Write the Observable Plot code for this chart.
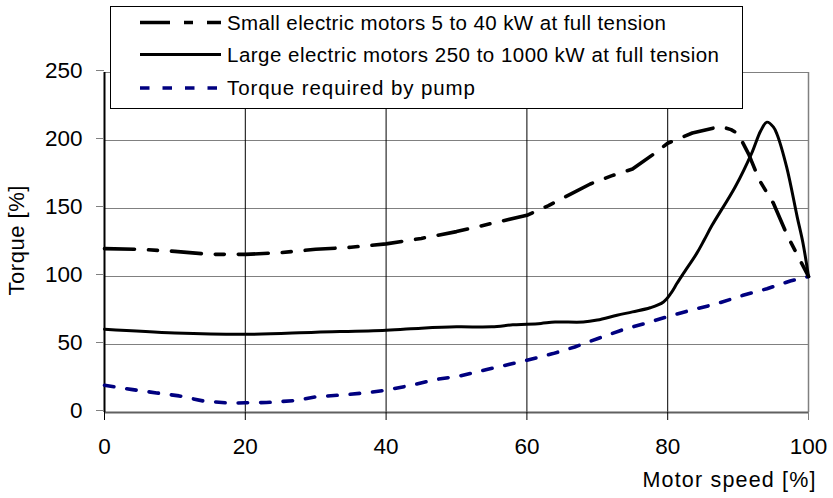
<!DOCTYPE html>
<html><head><meta charset="utf-8">
<script src="https://cdn.jsdelivr.net/npm/d3@7"></script>
<script src="https://cdn.jsdelivr.net/npm/@observablehq/plot@0.6"></script>
<style>
body{margin:0;background:#fff;font-family:"Liberation Sans",Arial,sans-serif;}
#wrap{position:relative;width:833px;height:498px;overflow:hidden;}
#legend{position:absolute;left:0;top:0;}
</style></head><body><div id="wrap"></div>
<script>
const seriesNames = [
  "Small electric motors 5 to 40 kW at full tension",
  "Large electric motors 250 to 1000 kW at full tension",
  "Torque required by pump"
];
const xTicks = [0, 20, 40, 60, 80, 100];
const yTicks = [0, 50, 100, 150, 200, 250];
const xTitle = "Motor speed [%]";
const yTitle = "Torque [%]";

const smallX = [0,5,10,15,20,25,30,35,40,45,50,55,60,63,66,69,72,75,78,80,83.5,87.5,89,90,91.5,93,95,97,99,100];
const smallY = [120.5,120,118.5,116.3,116.3,117.5,120,121.5,124,128,133,139,145,152,160,168,174,179,190,198,205.5,210.4,208,205,190,171,154,130,110,100];

const largeX = [0,10,20,30,40,45,50,55,58,60,62,64,68,70,72.8,75,77.5,79.4,80.5,81.3,82.2,84.1,85.2,86.3,89.6,92,93.2,94.1,95,95.5,96.9,98.4,99.2,100];
const largeY = [61.2,58.5,57.5,59,60.5,62,63,63,64.5,64.9,65.5,66.5,66.5,68,71.5,74,77,81.3,88,94.8,102,116.8,127,137.6,166,191.5,207,213.5,210,205,180.4,143.7,125,100];

const pumpX = [0,4,7.4,10.6,14,18,20,23,27,30,34,37,40,44,47,50.5,54.3,58,60,63.7,66.8,70.4,73.7,77,80,83.6,87,90.7,94.1,97.4,100];
const pumpY = [20,16.8,14.4,12.2,8.5,6.8,7.2,7.3,8.8,11.5,13,14.4,16.4,20.5,24.2,26.9,31.6,36,38.4,43.3,48.2,55,61,65.8,70.5,75.7,80,86.2,91,96.7,100];

const toRows = (xs, ys) => xs.map((x, i) => ({x, y: ys[i]}));
const small = toRows(smallX, smallY);
const large = toRows(largeX, largeY);
const pump = toRows(pumpX, pumpY);

const FONT = "'Liberation Sans', Arial, sans-serif";
const styles = [
  {stroke: "#000", strokeWidth: 3.6, dash: "30,14,9,14"},
  {stroke: "#000", strokeWidth: 3, dash: null},
  {stroke: "#000080", strokeWidth: 3.6, dash: "9.5,13"}
];
// rendered text widths as in the reference
const legendTextWidths = [439, 492, 248];
const xTitleWidth = 173;
const yTitleWidth = 110;

const plot = Plot.plot({
  width: 833,
  height: 498,
  marginLeft: 104,
  marginRight: 25,
  marginTop: 72,
  marginBottom: 86,
  style: {fontFamily: FONT, fontSize: "22px", background: "#fff", overflow: "visible"},
  x: {domain: [0, 100]},
  y: {domain: [0, 250]},
  marks: [
    Plot.ruleY(yTicks.filter(d => d > 0), {stroke: "#808080", strokeWidth: 1}),
    Plot.ruleX(xTicks.filter(d => d > 0 && d < 100), {stroke: "#000", strokeWidth: 1}),
    Plot.ruleX([100], {stroke: "#808080", strokeWidth: 1.5}),
    Plot.ruleY([0], {stroke: "#606060", strokeWidth: 2}),
    Plot.ruleX([0], {stroke: "#000", strokeWidth: 2}),
    Plot.axisY(yTicks, {tickSize: 8, tickPadding: 14, stroke: "#808080", fontSize: 22.5, label: null, dy: -2, fill: "#000"}),
    Plot.axisX(xTicks.filter(d => d < 100), {tickSize: 8, tickPadding: 18, stroke: "#000", fontSize: 22.5, label: null, fill: "#000"}),
    Plot.axisX([100], {tickSize: 8, tickPadding: 18, stroke: "#808080", fontSize: 22.5, label: null, fill: "#000"}),
    Plot.line(pump, {x: "x", y: "y", stroke: styles[2].stroke, strokeWidth: styles[2].strokeWidth, strokeDasharray: styles[2].dash}),
    Plot.line(large, {x: "x", y: "y", stroke: styles[1].stroke, strokeWidth: styles[1].strokeWidth, curve: "catmull-rom", strokeLinejoin: "round"}),
    Plot.line(small, {x: "x", y: "y", stroke: styles[0].stroke, strokeWidth: styles[0].strokeWidth, strokeDasharray: styles[0].dash}),
    Plot.text([yTitle], {frameAnchor: "left", textAnchor: "middle", rotate: -90, dx: -88, dy: -2, fontSize: 22, fill: "#000"}),
    Plot.text([xTitle], {frameAnchor: "bottom-right", textAnchor: "start", dx: -166, dy: 74, fontSize: 21.5, fill: "#000"})
  ]
});

d3.select(plot).selectAll("text")
  .filter(function() { return this.textContent === xTitle; })
  .attr("textLength", xTitleWidth).attr("lengthAdjust", "spacing");
d3.select(plot).selectAll("text")
  .filter(function() { return this.textContent === yTitle; })
  .attr("textLength", yTitleWidth).attr("lengthAdjust", "spacing");

const wrap = document.getElementById("wrap");
wrap.appendChild(plot);

// Legend overlay (drawn above the plot area, as in the reference)
const ns = "http://www.w3.org/2000/svg";
const lg = document.createElementNS(ns, "svg");
lg.setAttribute("id", "legend");
lg.setAttribute("width", 833);
lg.setAttribute("height", 120);
const box = document.createElementNS(ns, "rect");
box.setAttribute("x", 110.5); box.setAttribute("y", 6.5);
box.setAttribute("width", 632); box.setAttribute("height", 102);
box.setAttribute("fill", "#fff"); box.setAttribute("stroke", "#000"); box.setAttribute("stroke-width", 1);
lg.appendChild(box);
const rowY = [22.5, 54.5, 88];
seriesNames.forEach((name, i) => {
  const ln = document.createElementNS(ns, "line");
  ln.setAttribute("x1", 140); ln.setAttribute("x2", 221);
  ln.setAttribute("y1", rowY[i]); ln.setAttribute("y2", rowY[i]);
  ln.setAttribute("stroke", styles[i].stroke);
  ln.setAttribute("stroke-width", styles[i].strokeWidth);
  if (styles[i].dash) ln.setAttribute("stroke-dasharray", styles[i].dash);
  lg.appendChild(ln);
  const t = document.createElementNS(ns, "text");
  t.setAttribute("x", 227); t.setAttribute("y", rowY[i] + 7);
  t.setAttribute("font-family", FONT); t.setAttribute("font-size", 20.5);
  t.setAttribute("fill", "#000");
  t.setAttribute("textLength", legendTextWidths[i]);
  t.setAttribute("lengthAdjust", "spacing");
  t.textContent = name;
  lg.appendChild(t);
});
wrap.appendChild(lg);
</script>
</body></html>
